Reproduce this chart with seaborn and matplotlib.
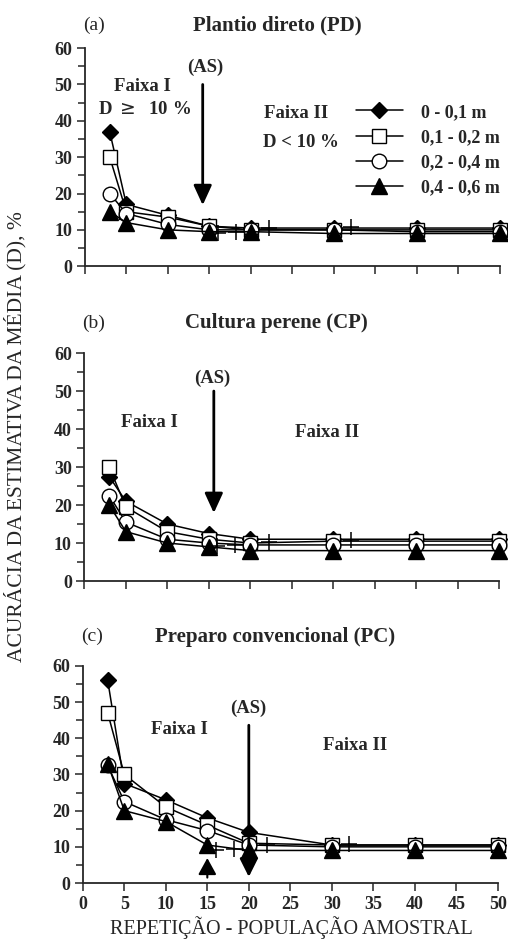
import numpy as np
import pandas as pd
import seaborn as sns
import matplotlib.pyplot as plt
from matplotlib.ticker import MultipleLocator

sns.set_style('ticks')
plt.rcParams['font.family'] = ['Liberation Serif', 'DejaVu Serif']

# sample sizes (x) and accuracy D (%) per depth layer
x = [3, 5, 10, 15, 20, 30, 40, 50]
depths = ['0 - 0,1 m', '0,1 - 0,2 m', '0,2 - 0,4 m', '0,4 - 0,6 m']

pd_vals = {
    '0 - 0,1 m':   [37, 17, 14, 11, 10.5, 10.5, 10.5, 10.5],
    '0,1 - 0,2 m': [30, 15, 13.5, 11, 10, 10, 10, 10],
    '0,2 - 0,4 m': [20, 14.5, 11.5, 10, 10, 10, 9.5, 9.5],
    '0,4 - 0,6 m': [15, 12, 10, 9.5, 9.5, 9, 9, 9],
}
cp_vals = {
    '0 - 0,1 m':   [27.5, 21, 15, 12.5, 11, 11, 11, 11],
    '0,1 - 0,2 m': [30, 19.5, 13, 11, 10, 10.5, 10.5, 10.5],
    '0,2 - 0,4 m': [22.5, 15.5, 11, 10, 9.5, 9.5, 9.5, 9.5],
    '0,4 - 0,6 m': [20, 13, 10, 9, 8, 8, 8, 8],
}
pc_vals = {
    '0 - 0,1 m':   [56, 27.5, 23, 18, 14, 10.5, 10.5, 10.5],
    '0,1 - 0,2 m': [47, 30, 21, 16, 11, 10.5, 10.5, 10.5],
    '0,2 - 0,4 m': [32.5, 22.5, 17.5, 14.5, 10.5, 10, 10, 10],
    '0,4 - 0,6 m': [33, 20, 17, 10.5, 9, 9, 9, 9],
}

# axis-break "+" marks drawn along the curves
break_x = [16, 18.2, 22.2, 32.1]
break_y = [9.2, 9.5, 10.4, 10.8]

marker_style = {
    '0 - 0,1 m':   ('D', 'black', 8.5),
    '0,1 - 0,2 m': ('s', 'white', 10.5),
    '0,2 - 0,4 m': ('o', 'white', 10.5),
    '0,4 - 0,6 m': ('^', 'black', 11),
}

fig = plt.figure(figsize=(5.08, 9.44), dpi=100)
axes = [
    fig.add_axes([0.167, 0.718, 0.817, 0.231]),
    fig.add_axes([0.166, 0.3845, 0.817, 0.2415]),
    fig.add_axes([0.163, 0.0646, 0.817, 0.23]),
]

panels = [('(a)', 'Plantio direto (PD)', pd_vals, 1.105),
          ('(b)', 'Cultura perene (CP)', cp_vals, 1.13),
          ('(c)', 'Preparo convencional (PC)', pc_vals, 1.134)]

def arrow(ax, x0, y0, y1, lw=2, hw=0.55, hl=1.2):
    ax.annotate('', xy=(x0, y1), xytext=(x0, y0),
                arrowprops=dict(arrowstyle=f'-|>,head_width={hw},head_length={hl}',
                                color='black', lw=lw, shrinkA=0, shrinkB=0))

for i, (ax, (tag, title, vals, ty)) in enumerate(zip(axes, panels)):
    for d in depths:
        m, fc, ms = marker_style[d]
        sns.lineplot(x=x, y=vals[d], ax=ax, color='black', linewidth=1.1,
                     marker=m, markerfacecolor=fc, markeredgecolor='black',
                     markersize=ms, markeredgewidth=1, clip_on=False,
                     label=d if i == 0 else None)
    sns.scatterplot(x=break_x, y=break_y, ax=ax, marker='+', s=140,
                    color='black', linewidth=1.1, zorder=5)
    ax.set_xlim(0, 50)
    ax.set_ylim(0, 60)
    ax.yaxis.set_major_locator(MultipleLocator(10))
    ax.yaxis.set_minor_locator(MultipleLocator(5))
    ax.xaxis.set_major_locator(MultipleLocator(5))
    ax.tick_params(axis='both', which='major', length=6, width=1.1, direction='out',
                   labelsize=13, pad=3)
    ax.tick_params(axis='y', which='minor', length=5, width=1.1)
    for lab in ax.get_yticklabels() + ax.get_xticklabels():
        lab.set_fontweight('bold')
    for s in ['left', 'bottom']:
        ax.spines[s].set_linewidth(1.3)
    sns.despine(ax=ax)
    ax.set_xlabel('')
    ax.set_ylabel('')
    if i < 2:
        ax.set_xticklabels([])
    ax.text(0.022, ty, tag, transform=ax.transAxes, fontsize=14, ha='center', va='center')
    ax.text(0.463, ty, title, transform=ax.transAxes, fontsize=15, fontweight='bold',
            ha='center', va='center')

lab_kw = dict(fontsize=13.5, fontweight='bold', ha='center', va='center')

ax = axes[0]
ax.text(6.9, 49.5, 'Faixa I', **lab_kw)
ax.text(7.2, 43, 'D $\\geq$  10 %', **lab_kw)
ax.text(14.5, 54.8, '(AS)', **lab_kw)
arrow(ax, 14.2, 50, 16.8)
ax.text(25.5, 42, 'Faixa II', **lab_kw)
ax.text(26, 34, 'D < 10 %', **lab_kw)
leg = ax.legend(loc='upper right', bbox_to_anchor=(1.0, 0.745), frameon=False,
                prop={'weight': 'bold', 'size': 13}, handlelength=2.6,
                labelspacing=0.45, borderpad=0, handletextpad=1.0,
                borderaxespad=0)

ax = axes[1]
ax.text(7.8, 41.6, 'Faixa I', **lab_kw)
ax.text(15.4, 53.4, '(AS)', **lab_kw)
arrow(ax, 15.6, 50, 17.9)
ax.text(29.3, 39, 'Faixa II', **lab_kw)

ax = axes[2]
ax.text(11.7, 42.3, 'Faixa I', **lab_kw)
ax.text(19.9, 48.3, '(AS)', **lab_kw)
ax.text(32.8, 38, 'Faixa II', **lab_kw)
arrow(ax, 20, 43.6, 1.7, hw=0.55, hl=1.1)
arrow(ax, 15, 1.5, 6.9, lw=1.5, hw=0.55, hl=1.0)

fig.text(0.03, 0.538, 'ACURÁCIA DA ESTIMATIVA DA MÉDIA (D), %', rotation=90,
         fontsize=15.5, ha='center', va='center')
fig.text(0.573, 0.005, 'REPETIÇÃO - POPULAÇÃO AMOSTRAL', fontsize=14.5,
         ha='center', va='bottom')

fig.savefig('out.png', dpi=100)
